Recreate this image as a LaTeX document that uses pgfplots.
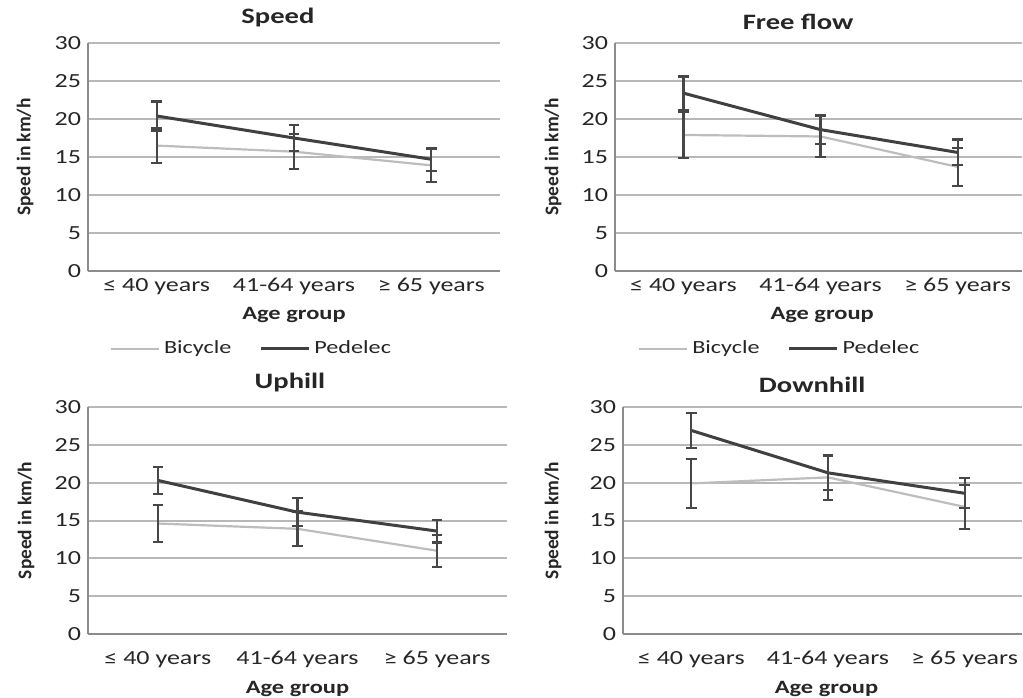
\documentclass[border=0pt]{standalone}
\usepackage{pgfplots}
\pgfplotsset{compat=1.18}
\usepackage{fontspec}
\setmainfont{Carlito}
\newfontfamily\sfont[FakeStretch=1.3]{Carlito}
\definecolor{ped}{HTML}{404040}
\definecolor{bic}{HTML}{BDBDBD}
\definecolor{gridc}{HTML}{B8B8B8}
\definecolor{axc}{HTML}{8C8C8C}
\definecolor{txt}{HTML}{262626}
\definecolor{err}{HTML}{474747}

\pgfplotstableread{
x y e
0 16.5 2.3
1 15.7 2.3
2 13.9 2.2
}\spdB
\pgfplotstableread{
x y e
0 20.4 1.9
1 17.5 1.7
2 14.7 1.5
}\spdP
\pgfplotstableread{
x y e
0 17.9 3.0
1 17.7 2.7
2 13.7 2.5
}\ffB
\pgfplotstableread{
x y e
0 23.4 2.2
1 18.6 1.9
2 15.6 1.7
}\ffP
\pgfplotstableread{
x y e
0 14.6 2.4
1 13.9 2.3
2 11.0 2.1
}\upB
\pgfplotstableread{
x y e
0 20.3 1.8
1 16.1 1.85
2 13.6 1.5
}\upP
\pgfplotstableread{
x y e
0 19.9 3.2
1 20.7 3.0
2 16.8 2.9
}\dnB
\pgfplotstableread{
x y e
0 26.9 2.3
1 21.3 2.3
2 18.6 2.0
}\dnP

\pgfplotsset{
  panel/.style={
    scale only axis,
    anchor=south west,
    ymin=0, ymax=30, ytick={0,5,...,30},
    xmin=-0.5,
    xtick={0,1,2},
    xticklabels={≤ 40 years, 41-64 years, ≥ 65 years},
    axis x line*=bottom, axis y line*=left,
    axis line style={axc, line width=1pt, -},
    ymajorgrids,
    major grid style={gridc, line width=1pt},
    major tick length=0pt,
    tick style={draw=none},
    /pgf/number format/assume math mode=true,
    ticklabel style={font=\sfont\fontsize{10}{12}\selectfont, text=txt},
    xlabel={Age group},
    ylabel={Speed in km/h},
    label style={text=txt},
    xlabel style={font=\sfont\bfseries\fontsize{9.4}{11}\selectfont},
    ylabel style={font=\bfseries\fontsize{9.7}{11}\selectfont},
    title style={font=\sfont\bfseries\fontsize{11}{13}\selectfont, text=txt, anchor=center},
    error bars/y dir=both,
    error bars/y explicit,
    error bars/error bar style={err, line width=1.1pt},
    error bars/error mark options={rotate=90, mark size=2.6pt, line width=1.1pt, err},
  },
  bicp/.style={bic, line width=1.1pt, mark=none},
  pedp/.style={ped, line width=1.5pt, mark=none},
  leg/.style={
    legend columns=2,
    legend style={draw=none, fill=none, anchor=center,
      font=\sfont\fontsize{9.3}{11}\selectfont, text=txt,
      /tikz/every even column/.append style={column sep=12pt}},
    legend image code/.code={\draw[##1] (0pt,0pt) -- (24pt,0pt);},
  },
}

\begin{document}
\begin{tikzpicture}
\useasboundingbox (0,0) rectangle (511.5pt,348.5pt);

% Speed
\begin{axis}[panel, leg, at={(44pt,213pt)}, width=206pt, height=114pt, xmax=2.5,
  title={Speed}, title style={at={(axis description cs:0.461,1)}, yshift=6.5pt},
  xlabel style={at={(axis description cs:0.5,0)}, anchor=center, yshift=-22pt},
  ylabel style={at={(axis description cs:0,0.5)}, anchor=center, yshift=31.5pt},
  legend style={at={(axis description cs:0.399,-0.342)}}]
\addplot[bicp] table[x=x, y=y, y error=e] {\spdB};
\addplot[pedp] table[x=x, y=y, y error=e] {\spdP};
\legend{Bicycle, Pedelec}
\end{axis}

% Free flow
\begin{axis}[panel, leg, at={(307.5pt,213pt)}, width=203.5pt, height=114pt, xmax=2.47,
  title={Free flow}, title style={at={(axis description cs:0.45,1)}, yshift=4.5pt},
  xlabel style={at={(axis description cs:0.509,0)}, anchor=center, yshift=-22pt},
  ylabel style={at={(axis description cs:0,0.5)}, anchor=center, yshift=31pt},
  legend style={at={(axis description cs:0.407,-0.342)}}]
\addplot[bicp] table[x=x, y=y, y error=e] {\ffB};
\addplot[pedp] table[x=x, y=y, y error=e] {\ffP};
\legend{Bicycle, Pedelec}
\end{axis}

% Uphill
\begin{axis}[panel, at={(44pt,31.5pt)}, width=209.5pt, height=113.5pt, xmax=2.5,
  title={Uphill}, title style={at={(axis description cs:0.482,1)}, yshift=6pt},
  xticklabel style={yshift=-5pt},
  xlabel style={at={(axis description cs:0.5,0)}, anchor=center, yshift=-27.5pt},
  ylabel style={at={(axis description cs:0,0.5)}, anchor=center, yshift=31pt}]
\addplot[bicp] table[x=x, y=y, y error=e] {\upB};
\addplot[pedp] table[x=x, y=y, y error=e] {\upP};
\end{axis}

% Downhill
\begin{axis}[panel, at={(311.5pt,31.5pt)}, width=199.5pt, height=113.5pt, xmax=2.42,
  title={Downhill}, title style={at={(axis description cs:0.474,1)}, yshift=5pt},
  xticklabel style={yshift=-5pt},
  xlabel style={at={(axis description cs:0.51,0)}, anchor=center, yshift=-27.5pt},
  ylabel style={at={(axis description cs:0,0.5)}, anchor=center, yshift=35pt}]
\addplot[bicp] table[x=x, y=y, y error=e] {\dnB};
\addplot[pedp] table[x=x, y=y, y error=e] {\dnP};
\end{axis}
\end{tikzpicture}
\end{document}
